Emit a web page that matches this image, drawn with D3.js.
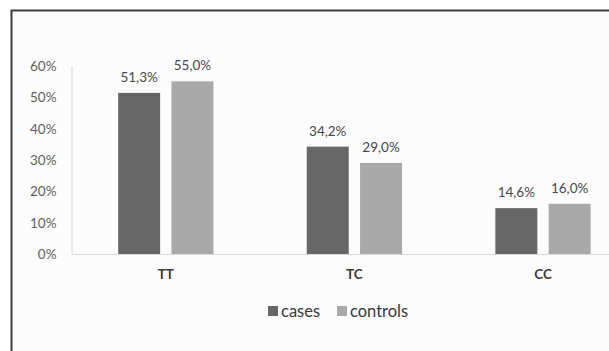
<!DOCTYPE html>
<html>
<head>
<meta charset="utf-8">
<script src="https://cdn.jsdelivr.net/npm/d3@7"></script>
<style>
  html, body { margin: 0; padding: 0; background: #ffffff; }
  svg { display: block; }
  text { font-family: Lato, "Open Sans", "DejaVu Sans", sans-serif; }
</style>
</head>
<body>
<svg id="chart" width="609" height="351"></svg>
<script>
// Genotype frequencies (%)
const categories = ["TT", "TC", "CC"];
const seriesNames = ["cases", "controls"];
const casesValues = [51.3, 34.2, 14.6];
const controlsValues = [55.0, 29.0, 16.0];
const yTicks = [0, 10, 20, 30, 40, 50, 60];
const seriesColors = ["#676767", "#a9a9a9"];

const svg = d3.select("#chart");
const W = 609, H = 351;

// frame and chart-area background
svg.append("rect").attr("x", 0).attr("y", 0).attr("width", W).attr("height", H).attr("fill", "#ffffff");
svg.append("rect").attr("x", 12).attr("y", 11).attr("width", W).attr("height", H).attr("fill", "#fcfcfc");
svg.append("rect")
  .attr("x", 11.5).attr("y", 10.5).attr("width", 700).attr("height", 500)
  .attr("fill", "none").attr("stroke", "#3c3c3c").attr("stroke-width", 2);

const plot = { left: 71.5, right: 637.3, top: 65.6, bottom: 254 };

const x = d3.scaleBand()
  .domain(categories)
  .range([plot.left, plot.right])
  .paddingInner(0.4947)
  .paddingOuter(0.2474);

const xSub = d3.scaleBand()
  .domain(seriesNames)
  .range([0, x.bandwidth()])
  .paddingInner(0.212)
  .paddingOuter(0);

const y = d3.scaleLinear().domain([0, 60]).range([plot.bottom, plot.top]);

const fmt = v => d3.format(".1f")(v).replace(".", ",") + "%";

// y axis
const yAxis = svg.append("g")
  .attr("transform", `translate(${plot.left},0)`)
  .call(d3.axisLeft(y).tickValues(yTicks).tickSize(0).tickPadding(15).tickFormat(d => d + "%"));
yAxis.select(".domain").attr("stroke", "#d9d9d9").attr("stroke-width", 1.2);
yAxis.selectAll("text").attr("fill", "#5e5e5e").attr("font-size", "13.5px").attr("dy", "0.35em");

// x axis baseline
const xAxis = svg.append("g")
  .attr("transform", `translate(0,${plot.bottom})`)
  .call(d3.axisBottom(x).tickSize(0).tickPadding(15));
xAxis.select(".domain").attr("stroke", "#d9d9d9").attr("stroke-width", 1.2);
xAxis.selectAll("text")
  .attr("fill", "#3a3a3a").attr("font-size", "13.5px").attr("font-weight", "bold");

// bars
const rows = categories.map((c, i) => ({
  category: c,
  values: [
    { series: "cases", value: casesValues[i] },
    { series: "controls", value: controlsValues[i] }
  ]
}));

const groups = svg.append("g").selectAll("g")
  .data(rows).join("g")
  .attr("transform", d => `translate(${x(d.category)},0)`);

groups.selectAll("rect")
  .data(d => d.values).join("rect")
  .attr("x", d => xSub(d.series))
  .attr("y", d => y(d.value))
  .attr("width", xSub.bandwidth())
  .attr("height", d => y(0) - y(d.value))
  .attr("fill", (d, i) => seriesColors[i]);

groups.selectAll("text.val")
  .data(d => d.values).join("text")
  .attr("class", "val")
  .attr("x", d => xSub(d.series) + xSub.bandwidth() / 2)
  .attr("y", d => y(d.value) - 11)
  .attr("text-anchor", "middle")
  .attr("fill", "#474747")
  .attr("font-size", "13.5px")
  .text(d => fmt(d.value));

// legend
const legend = svg.append("g").attr("transform", "translate(268,311)");
const legendX = [0, 69];
seriesNames.forEach((name, i) => {
  const g = legend.append("g").attr("transform", `translate(${legendX[i]},0)`);
  g.append("rect").attr("x", 0).attr("y", -5).attr("width", 10).attr("height", 10).attr("fill", seriesColors[i]);
  g.append("text").attr("x", 13).attr("y", 0).attr("dy", "0.35em")
    .attr("fill", "#383838").attr("font-size", "16.5px").text(name);
});
</script>
</body>
</html>
